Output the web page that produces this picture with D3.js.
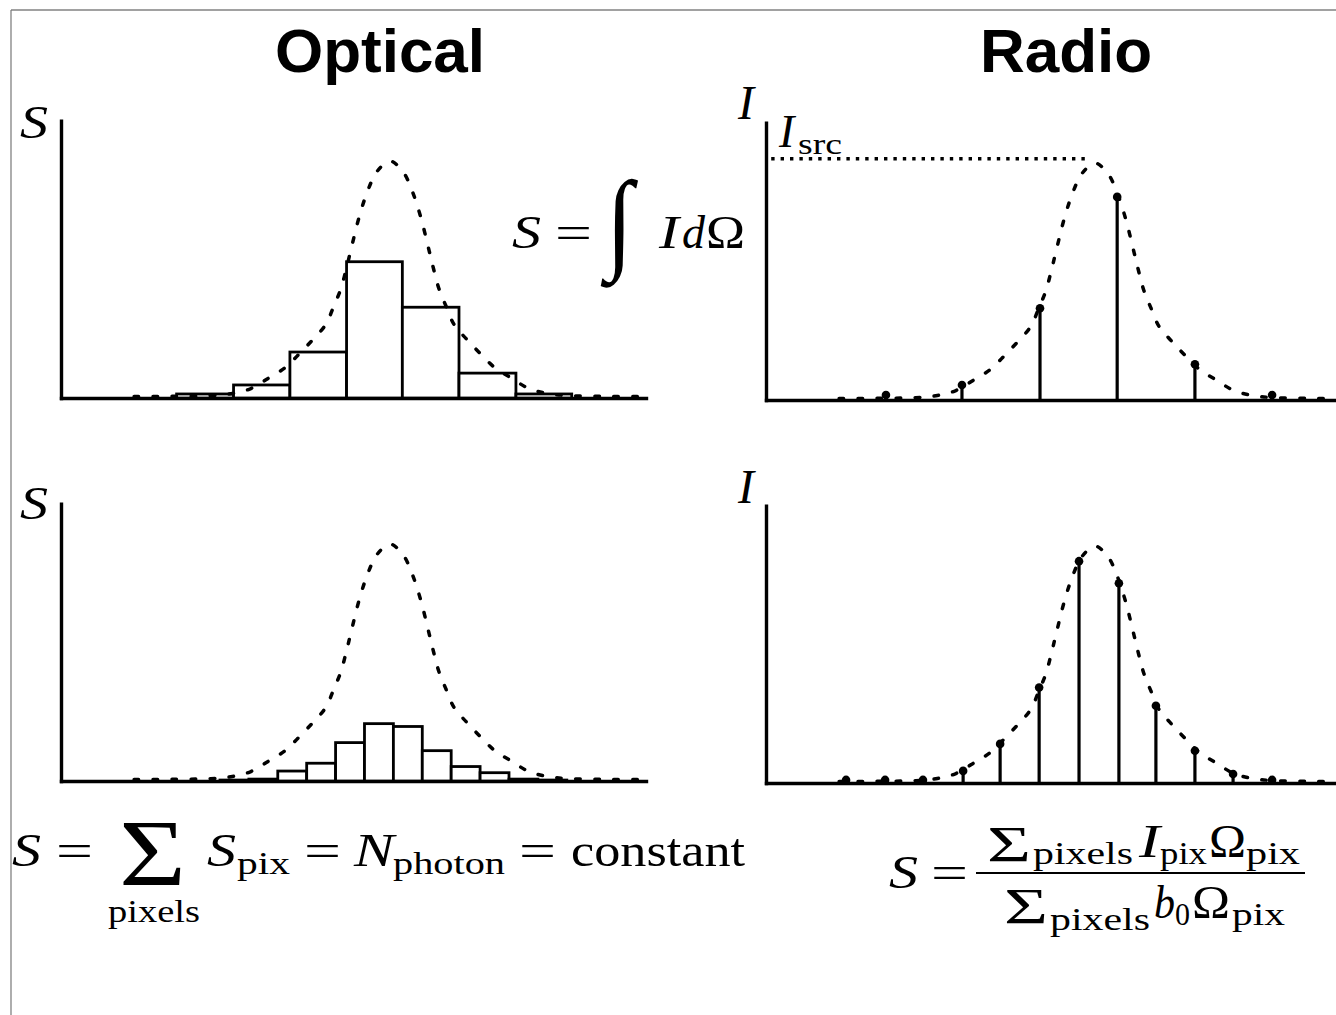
<!DOCTYPE html>
<html>
<head>
<meta charset="utf-8">
<script src="https://cdn.jsdelivr.net/npm/d3@7"></script>
<style>
  html, body { margin: 0; padding: 0; background: #fff; }
  svg { display: block; }
</style>
</head>
<body>
<svg id="fig" width="1336" height="1015"></svg>
<script>
// ---- data -------------------------------------------------------------
const panelTitles = ["Optical", "Radio"];

// True source profile: sky offset from the source centre vs fraction of peak
const profileOffset = [-8.85, -7.6, -6.2, -5.45, -4.81, -4.2, -3.63, -3.13, -2.64, -2.22, -1.95, -1.7, -1.52, -1.36, -1.05, -0.75, -0.45, 0,
                       0.45, 0.75, 1.05, 1.36, 1.52, 1.7, 1.95, 2.22, 2.64, 3.13, 3.63, 4.2, 4.81, 5.45, 6.2, 7.6, 8.85];
const profileLevel  = [0.006, 0.007, 0.010, 0.019, 0.040, 0.084, 0.128, 0.187, 0.25, 0.31, 0.385, 0.46, 0.54, 0.62, 0.77, 0.88, 0.955, 1.0,
                       0.955, 0.88, 0.77, 0.62, 0.54, 0.46, 0.385, 0.31, 0.25, 0.187, 0.128, 0.084, 0.040, 0.019, 0.010, 0.007, 0.006];
const sourceCentre = 11.38;

// Optical: photons collected in large pixels
const coarseEdges = [4.0, 5.97, 7.92, 9.88, 11.81, 13.77, 15.74, 17.67];
const coarseFlux  = [0.017, 0.055, 0.194, 0.575, 0.383, 0.105, 0.017];
// Optical: the same photons spread over small pixels
const fineEdges = [5.5, 6.5, 7.5, 8.5, 9.5, 10.5, 11.5, 12.5, 13.5, 14.5, 15.5, 16.5, 17.5];
const fineFlux  = [0.004, 0.008, 0.042, 0.075, 0.162, 0.242, 0.230, 0.128, 0.061, 0.035, 0.008, 0.004];

// Radio: intensity sampled at pixel centres
const coarseSamples   = [4.15, 6.78, 9.48, 12.15, 14.84, 17.51];
const coarseIntensity = [0.021, 0.063, 0.387, 0.857, 0.151, 0.021];
const fineSamples     = [2.77, 4.12, 5.43, 6.82, 8.10, 9.45, 10.83, 12.21, 13.49, 14.84, 16.16, 17.51];
const fineIntensity   = [0.013, 0.013, 0.013, 0.051, 0.165, 0.403, 0.936, 0.843, 0.326, 0.136, 0.038, 0.013];
const sourceIntensity = 1.018;

// ---- layout -----------------------------------------------------------
const svg = d3.select("#fig");
const AXIS_LEN = 585, PEAK_PX = 237, Y_MAX = 1.17, X_MAX = 20.24;
const SERIF = "'Liberation Serif', 'Times New Roman', serif";

const panels = [
  { key: "optCoarse", x0: 61,  base: 398 },
  { key: "optFine",   x0: 61,  base: 781 },
  { key: "radCoarse", x0: 766, base: 400 },
  { key: "radFine",   x0: 766, base: 783 }
];

// frame around the figure
svg.append("line").attr("x1", 11).attr("y1", 10).attr("x2", 1336).attr("y2", 10)
  .attr("stroke", "#444").attr("stroke-width", 1.2);
svg.append("line").attr("x1", 11).attr("y1", 10).attr("x2", 11).attr("y2", 1015)
  .attr("stroke", "#777").attr("stroke-width", 1.2);

// column titles
[[panelTitles[0], 380], [panelTitles[1], 1066]].forEach(([t, cx]) => {
  svg.append("text").attr("x", cx).attr("y", 72).attr("text-anchor", "middle")
    .attr("font-family", "'Liberation Sans', Arial, sans-serif").attr("font-weight", "bold")
    .attr("font-size", 62).text(t);
});

function scalesFor(p) {
  const x = d3.scaleLinear().domain([0, X_MAX]).range([p.x0, p.x0 + AXIS_LEN]);
  const y = d3.scaleLinear().domain([0, Y_MAX]).range([p.base, p.base - PEAK_PX * Y_MAX]);
  return { x, y };
}

function drawAxes(g, s) {
  const xa = g.append("g").attr("transform", `translate(0,${s.y(0)})`)
    .call(d3.axisBottom(s.x).tickValues([]).tickSizeOuter(0));
  const ya = g.append("g").attr("transform", `translate(${s.x(0)},0)`)
    .call(d3.axisLeft(s.y).tickValues([]).tickSizeOuter(0));
  [xa, ya].forEach(a => a.select(".domain")
    .attr("stroke", "#000").attr("stroke-width", 3.4).attr("stroke-linecap", "square"));
}

function drawProfile(g, s) {
  const pts = profileOffset.map((o, i) => [sourceCentre + o, profileLevel[i]]);
  const line = d3.line().x(d => s.x(d[0])).y(d => s.y(d[1])).curve(d3.curveCatmullRom.alpha(0.5));
  g.append("path").attr("d", line(pts)).attr("fill", "none")
    .attr("stroke", "#000").attr("stroke-width", 3.5)
    .attr("stroke-linecap", "round").attr("stroke-dasharray", "4.5 14.5");
}

function drawBars(g, s, edges, flux) {
  g.selectAll("rect.bin").data(flux).join("rect").attr("class", "bin")
    .attr("x", (d, i) => s.x(edges[i]))
    .attr("width", (d, i) => s.x(edges[i + 1]) - s.x(edges[i]))
    .attr("y", d => s.y(d))
    .attr("height", d => s.y(0) - s.y(d))
    .attr("fill", "#fff").attr("stroke", "#000").attr("stroke-width", 2.8);
}

function drawStems(g, s, xs, vals) {
  const data = xs.map((x, i) => ({ x, v: vals[i] }));
  g.selectAll("line.stem").data(data).join("line").attr("class", "stem")
    .attr("x1", d => s.x(d.x)).attr("x2", d => s.x(d.x))
    .attr("y1", s.y(0)).attr("y2", d => s.y(d.v))
    .attr("stroke", "#000").attr("stroke-width", 3.2);
  g.selectAll("circle.tip").data(data).join("circle").attr("class", "tip")
    .attr("cx", d => s.x(d.x)).attr("cy", d => s.y(d.v)).attr("r", 4.3).attr("fill", "#000");
}

panels.forEach(p => {
  const s = scalesFor(p);
  const g = svg.append("g").attr("class", p.key);
  drawAxes(g, s);
  if (p.key === "optCoarse") { drawBars(g, s, coarseEdges, coarseFlux); drawProfile(g, s); }
  if (p.key === "optFine")   { drawBars(g, s, fineEdges, fineFlux); drawProfile(g, s); }
  if (p.key === "radCoarse") {
    g.append("line").attr("x1", s.x(0.18)).attr("x2", s.x(sourceCentre - 0.25))
      .attr("y1", s.y(sourceIntensity)).attr("y2", s.y(sourceIntensity))
      .attr("stroke", "#000").attr("stroke-width", 3.4).attr("stroke-dasharray", "3.4 6");
    drawProfile(g, s); drawStems(g, s, coarseSamples, coarseIntensity);
  }
  if (p.key === "radFine") { drawProfile(g, s); drawStems(g, s, fineSamples, fineIntensity); }
});

// ---- math annotations ---------------------------------------------------
const math = svg.append("g").attr("font-family", SERIF).attr("fill", "#000");
function put(str, x, y, size, opt = {}) {
  const t = math.append("text").attr("x", x).attr("y", y).attr("font-size", size).text(str);
  if (opt.italic) t.attr("font-style", "italic");
  if (opt.w) t.attr("textLength", opt.w).attr("lengthAdjust", "spacingAndGlyphs");
  if (opt.anchor) t.attr("text-anchor", opt.anchor);
  return t;
}

// axis labels
put("S", 20, 138, 46, { italic: true, w: 28 });
put("S", 20, 519, 46, { italic: true, w: 28 });
put("I", 738, 119, 48, { italic: true });
put("I", 738, 503, 48, { italic: true });
put("I", 779, 147, 46, { italic: true });
put("src", 798, 154, 29, { w: 44 });

// S = ∫ I dΩ
put("S", 512, 248, 46, { italic: true, w: 29 });
put("=", 555, 248, 46, { w: 37 });
put("∫", 606, 258, 111, { w: 27 });
put("I", 659, 248, 46, { italic: true, w: 20 });
put("d", 682, 248, 46, { italic: true, w: 23 });
put("Ω", 706, 248, 46, { w: 39 });

// S = Σ S_pix = N_photon = constant  (the sum carries its limit underneath)
put("S", 12, 866, 46, { italic: true, w: 29 });
put("=", 56, 866, 46, { w: 37 });
const bigSum = math.append("text");
bigSum.append("tspan").attr("x", 119).attr("y", 886).attr("font-size", 96)
  .attr("textLength", 67).attr("lengthAdjust", "spacingAndGlyphs").text("Σ");
bigSum.append("tspan").attr("x", 108).attr("y", 922).attr("font-size", 32)
  .attr("textLength", 92).attr("lengthAdjust", "spacingAndGlyphs").text("pixels");
put("S", 207, 866, 46, { italic: true, w: 29 });
put("pix", 237, 874, 32, { w: 53 });
put("=", 304, 866, 46, { w: 37 });
put("N", 354, 866, 46, { italic: true, w: 40 });
put("photon", 393, 874, 32, { w: 112 });
put("=", 519, 866, 46, { w: 37 });
put("constant", 571, 866, 46, { w: 174 });

// S = Σ I Ω / Σ b0 Ω
put("S", 889, 888, 46, { italic: true, w: 29 });
put("=", 931, 888, 46, { w: 37 });
math.append("line").attr("x1", 976).attr("x2", 1305).attr("y1", 873).attr("y2", 873)
  .attr("stroke", "#000").attr("stroke-width", 2);
put("Σ", 987, 861, 50, { w: 44 });
put("pixels", 1033, 864, 32, { w: 100 });
put("I", 1139, 857, 46, { italic: true, w: 21 });
put("pix", 1160, 864, 32, { w: 47 });
put("Ω", 1209, 857, 46, { w: 37 });
put("pix", 1246, 864, 32, { w: 54 });
put("Σ", 1004, 923, 50, { w: 44 });
put("pixels", 1050, 930, 32, { w: 100 });
put("b", 1154, 918, 46, { italic: true, w: 21 });
put("0", 1175, 925, 32, { w: 15 });
put("Ω", 1192, 918, 46, { w: 38 });
put("pix", 1232, 925, 32, { w: 53 });
</script>
</body>
</html>
